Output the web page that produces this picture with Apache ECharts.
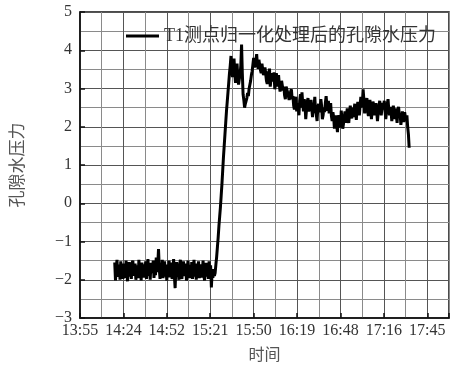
<!DOCTYPE html>
<html>
<head>
<meta charset="utf-8">
<script src="https://cdn.jsdelivr.net/npm/echarts@6/dist/echarts.min.js"></script>
<style>
  html, body { margin: 0; padding: 0; background: #fff; }
  #chart { width: 456px; height: 371px; }
</style>
</head>
<body>
<div id="chart"></div>
<script>
// Time axis: tick labels every 28.75 min starting at 13:55
const axisStartTime = '13:55';
const xTickLabels = ['13:55', '14:24', '14:52', '15:21', '15:50', '16:19', '16:48', '17:16', '17:45'];
const xTickStepMinutes = 28.75;
const xAxisEndMinutes = 244.375;

// Pressure axis
const yMin = -3;
const yMax = 5;
const yStep = 1;

// T1 normalised pore pressure, one sample every 30 s from 14:18
const sampleStartTime = '14:18';
const sampleStepMinutes = 0.5;
const pressure = [
  // before the rise
  -1.55, -2.02, -1.70, -1.48, -1.92, -1.85, -1.60, -2.00, -1.52, -1.88,
  -1.75, -1.98, -1.58, -1.82, -1.95, -1.50, -1.86, -2.04, -1.64, -1.54,
  -1.92, -1.70, -1.98, -1.56, -1.50, -1.90, -1.72, -1.58, -2.00, -1.80,
  -1.62, -1.96, -1.48, -1.84, -1.68, -2.02, -1.55, -1.78, -1.94, -1.60,
  -1.86, -1.52, -1.98, -1.72, -1.46, -1.90, -1.65, -2.00, -1.56, -1.82,
  -1.74, -1.50, -1.95, -1.62, -1.88, -1.42, -1.80, -1.60, -1.20, -1.70,
  -1.98, -1.58, -1.85, -1.48, -1.96, -1.66, -1.52, -1.92, -1.76, -2.02,
  -1.60, -1.86, -1.50, -1.94, -1.70, -1.55, -1.98, -1.82, -1.46, -1.90,
  -2.22, -1.68, -1.54, -1.92, -1.78, -2.00, -1.60, -1.48, -1.86, -1.98,
  -1.64, -1.52, -1.90, -1.76, -1.58, -2.02, -1.84, -1.50, -1.70, -1.96,
  -1.62, -1.88, -1.54, -1.98, -1.72, -1.48, -1.92, -1.66, -2.00, -1.58,
  -1.84, -1.52, -1.96, -1.70, -1.60, -1.94, -1.78, -1.50, -1.88, -2.02,
  -1.64, -1.56, -1.92, -1.74, -1.98, -1.52, -1.86, -1.62, -2.20, -1.80,
  -1.95, -1.72, -1.90, -1.82,
  // rise
  -1.60, -1.40, -1.15, -0.90, -0.60, -0.35, -0.10, 0.20, 0.50, 0.85,
  1.20, 1.50, 1.80, 2.10, 2.40, 2.65, 2.90, 3.15, 3.40, 3.60,
  // peak
  3.85, 3.55, 3.30, 3.62, 3.78, 3.40, 3.15, 3.50, 3.65, 3.30,
  3.10, 3.25, 3.35, 3.60, 4.15, 3.40, 2.85, 2.70, 2.50, 2.60,
  2.58, 2.75, 2.88, 2.80, 3.00, 3.10, 3.20, 3.35, 3.45, 3.62,
  3.80, 3.55, 3.50, 3.72, 3.90, 3.60, 3.52, 3.75, 3.78, 3.48,
  3.40, 3.65, 3.62, 3.35,
  // decline
  3.30, 3.55, 3.58, 3.20, 3.12, 3.45, 3.38, 3.52, 3.05, 3.25,
  3.40, 3.18, 3.20, 3.42, 2.98, 3.15, 3.40, 3.28, 3.05, 3.35,
  3.10, 2.92, 2.88, 3.20, 3.22, 2.95, 3.05, 2.82, 2.72, 3.05,
  3.10, 2.90, 2.95, 2.70, 2.65, 2.92, 2.98, 2.72, 2.80, 2.55,
  2.45, 2.70, 2.78, 2.40, 2.62, 2.55, 2.30, 2.68, 2.85, 2.50,
  2.90, 2.62, 2.40, 2.72, 2.58, 2.20, 2.45, 2.66, 2.75, 2.40,
  2.48, 2.62,
  // plateau
  2.70, 2.48, 2.25, 2.60, 2.52, 2.78, 2.40, 2.32, 2.15, 2.50,
  2.60, 2.38, 2.45, 2.72, 2.55, 2.20, 2.30, 2.50, 2.38, 2.62,
  2.80, 2.55, 2.42, 2.68, 2.35, 2.50, 2.62, 2.28,
  2.15, 2.38, 2.25, 1.95, 2.10, 2.30, 2.05, 1.86, 2.18, 2.30,
  2.12, 1.98, 2.42, 2.20, 1.95, 2.08, 2.25, 2.40, 2.10, 2.30,
  2.48, 2.20, 2.10, 2.35, 2.55, 2.32, 2.22, 2.50,
  2.25, 2.45, 2.60, 2.38, 2.18, 2.50, 2.65, 2.42, 2.30, 2.55,
  2.78, 2.50, 2.62, 2.98, 2.70, 2.35, 2.48, 2.62, 2.75, 2.40,
  2.28, 2.55, 2.70, 2.48, 2.20, 2.42, 2.66, 2.58, 2.30, 2.45,
  2.62, 2.40, 2.15, 2.38, 2.55, 2.68, 2.42, 2.30, 2.50, 2.62,
  2.45, 2.68, 2.42, 2.20, 2.38, 2.60, 2.72, 2.45, 2.30, 2.52,
  2.40, 2.15, 2.35, 2.55, 2.38, 2.20, 2.48, 2.30, 2.10, 2.42,
  2.52, 2.28, 2.35, 2.05, 2.22, 2.40, 2.30, 2.12, 2.38, 2.25,
  2.15, 2.30, 2.00, 1.80, 1.45
];

const seriesName = 'T1测点归一化处理后的孔隙水压力';
const yAxisName = '孔隙水压力';
const xAxisName = '时间';

function toMinutes(hhmm) {
  const [h, m] = hhmm.split(':').map(Number);
  return h * 60 + m;
}

const offset = toMinutes(sampleStartTime) - toMinutes(axisStartTime);
const lineData = pressure.map((v, i) => [offset + i * sampleStepMinutes, v]);

const serif = "'Liberation Serif', 'Times New Roman', 'Noto Sans CJK SC', serif";
const cjk = "'Noto Sans CJK SC', sans-serif";

const chart = echarts.init(document.getElementById('chart'), null, { renderer: 'canvas' });
chart.setOption({
  animation: false,
  backgroundColor: '#fff',
  grid: {
    left: 72, right: 7, top: 12, bottom: 53,
    show: true, borderColor: '#111', borderWidth: 1.5, backgroundColor: 'transparent'
  },
  legend: {
    left: 121, top: 22,
    icon: 'rect',
    itemWidth: 33, itemHeight: 3, itemGap: 0,
    textStyle: { fontFamily: serif, fontSize: 18, color: '#333' },
    data: [seriesName]
  },
  xAxis: [{
    type: 'value',
    min: 0, max: xAxisEndMinutes,
    interval: xTickStepMinutes / 2,
    name: xAxisName, nameLocation: 'middle', nameGap: 28,
    nameTextStyle: { fontFamily: cjk, fontSize: 16, color: '#555' },
    axisLine: { show: true, onZero: false, lineStyle: { color: '#111', width: 1.5 } },
    axisTick: { show: false },
    axisLabel: {
      margin: 5, fontFamily: serif, fontSize: 16, color: '#333',
      showMaxLabel: true, showMinLabel: true,
      formatter: (v) => {
        const k = v / xTickStepMinutes;
        const r = Math.round(k);
        return Math.abs(k - r) < 1e-6 && r < xTickLabels.length ? xTickLabels[r] : '';
      }
    },
    splitLine: { show: true, lineStyle: { color: ['#555', '#8a8a8a'], width: 1 } }
  }, {
    type: 'value',
    position: 'bottom',
    min: 0, max: xAxisEndMinutes,
    interval: xTickStepMinutes,
    axisLine: { show: false, onZero: false },
    axisLabel: { show: false },
    splitLine: { show: false },
    axisTick: { show: true, inside: true, length: 5, lineStyle: { color: '#111', width: 1.5 } }
  }],
  yAxis: {
    type: 'value',
    min: yMin, max: yMax, interval: yStep,
    name: yAxisName, nameLocation: 'middle', nameGap: 55, nameRotate: 90,
    nameTextStyle: { fontFamily: cjk, fontSize: 17, color: '#555' },
    axisLine: { show: true, onZero: false, lineStyle: { color: '#111', width: 1.5 } },
    axisTick: { show: true, inside: true, length: 5, lineStyle: { color: '#111', width: 1.5 } },
    axisLabel: {
      margin: 8, fontFamily: serif, fontSize: 16, color: '#333',
      formatter: (v) => String(v).replace('-', '\u2212')
    },
    splitLine: { show: true, lineStyle: { color: '#555', width: 1 } },
    minorTick: { show: false, splitNumber: 2 },
    minorSplitLine: { show: true, lineStyle: { color: '#8a8a8a', width: 1 } }
  },
  series: [{
    name: seriesName,
    type: 'line',
    xAxisIndex: 0,
    data: lineData,
    symbol: 'none',
    lineStyle: { color: '#000', width: 3 },
    itemStyle: { color: '#000' }
  }]
});
</script>
</body>
</html>
